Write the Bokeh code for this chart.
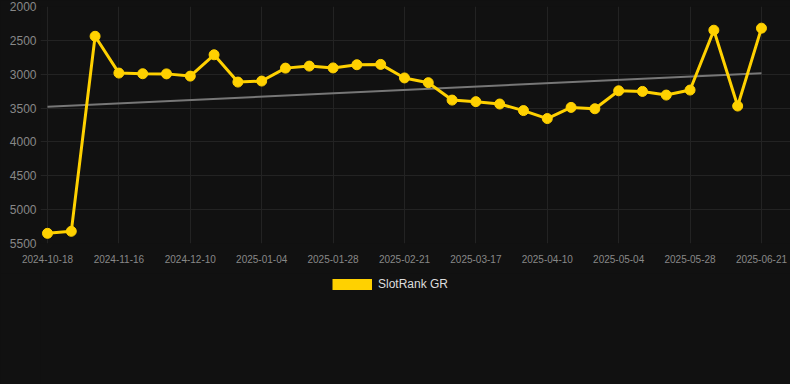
from bokeh.plotting import figure
from bokeh.layouts import column
from bokeh.models import (Range1d, FixedTicker, Legend, LegendItem, ColumnDataSource,
                          GlobalInlineStyleSheet)
from bokeh.embed import file_html
from bokeh.resources import INLINE

dates = ["2024-10-18", "2024-10-28", "2024-11-07", "2024-11-16", "2024-11-24", "2024-12-02",
         "2024-12-10", "2024-12-18", "2024-12-26", "2025-01-04", "2025-01-12", "2025-01-20",
         "2025-01-28", "2025-02-05", "2025-02-13", "2025-02-21", "2025-03-01", "2025-03-09",
         "2025-03-17", "2025-03-25", "2025-04-02", "2025-04-10", "2025-04-18", "2025-04-26",
         "2025-05-04", "2025-05-12", "2025-05-20", "2025-05-28", "2025-06-05", "2025-06-13",
         "2025-06-21"]
ranks = [5350, 5320, 2440, 2983, 2993, 2995, 3028, 2713, 3116, 3101, 2910, 2880,
         2907, 2860, 2855, 3055, 3125, 3382, 3405, 3440, 3537, 3655, 3490, 3510,
         3245, 3254, 3308, 3234, 2350, 3470, 2320]
trend_idx = [0, 30]
trend_vals = [3482, 2984]
y_ticks = [2000, 2500, 3000, 3500, 4000, 4500, 5000, 5500]
label_every = 3
series_name = "SlotRank GR"
gold = "#FFD100"

x = list(range(len(dates)))
src = ColumnDataSource(dict(x=x, y=ranks, d=dates))
x_ticks = x[::label_every]

bg = "#111111"
p = figure(width=790, height=273, output_backend="svg", toolbar_location=None,
           x_range=Range1d(-0.294, 31.22), y_range=Range1d(5500, 2000),
           background_fill_color=bg, border_fill_color=bg, outline_line_color=None,
           min_border_left=40, min_border_right=0, min_border_top=6, min_border_bottom=30)
p.stylesheets.append(GlobalInlineStyleSheet(css="body{background-color:#111111;}"))

p.xaxis.ticker = FixedTicker(ticks=x_ticks)
p.xaxis.major_label_overrides = {i: dates[i] for i in x_ticks}
p.yaxis.ticker = FixedTicker(ticks=y_ticks)
p.xgrid.ticker = FixedTicker(ticks=x_ticks)
p.ygrid.ticker = FixedTicker(ticks=y_ticks)
for g in (p.xgrid, p.ygrid):
    g.grid_line_color = "#232323"
    g.grid_line_width = 1
for ax in (p.xaxis, p.yaxis):
    ax.axis_line_color = None
    ax.major_tick_line_color = None
    ax.minor_tick_line_color = None
    ax.major_tick_out = 0
    ax.major_tick_in = 0
    ax.major_label_text_color = "#888888"
    ax.major_label_text_font = "Liberation Sans"
p.xaxis.major_label_text_font_size = "10px"
p.xaxis.major_label_standoff = 11
p.yaxis.major_label_text_font_size = "12px"
p.yaxis.major_label_standoff = 4

p.line(trend_idx, trend_vals, line_color="#777777", line_width=2)
p.line("x", "y", source=src, line_color=gold, line_width=3)
p.scatter("x", "y", source=src, size=10, fill_color=gold, line_color=gold)

# legend strip below the chart (series drawn off-range so only its legend entry shows)
q = figure(width=790, height=111, output_backend="svg", toolbar_location=None,
           x_axis_type=None, y_axis_type=None,
           x_range=Range1d(0, 1), y_range=Range1d(0, 1),
           background_fill_color=bg, border_fill_color=bg, outline_line_color=None,
           min_border=0)
sw = q.line("x", "y", source=src, line_color=gold, line_width=11, line_cap="butt")
legend = Legend(items=[LegendItem(label=series_name, renderers=[sw])],
                orientation="horizontal", location=(292, 93),
                glyph_width=40, glyph_height=12, label_standoff=6,
                label_text_font="Liberation Sans", label_text_font_size="12px",
                label_text_color="#dddddd", background_fill_alpha=0,
                border_line_alpha=0, padding=0, margin=0, spacing=0)
q.add_layout(legend, "center")

layout = column(p, q, spacing=0)
open("out.html", "w").write(file_html(layout, INLINE))
